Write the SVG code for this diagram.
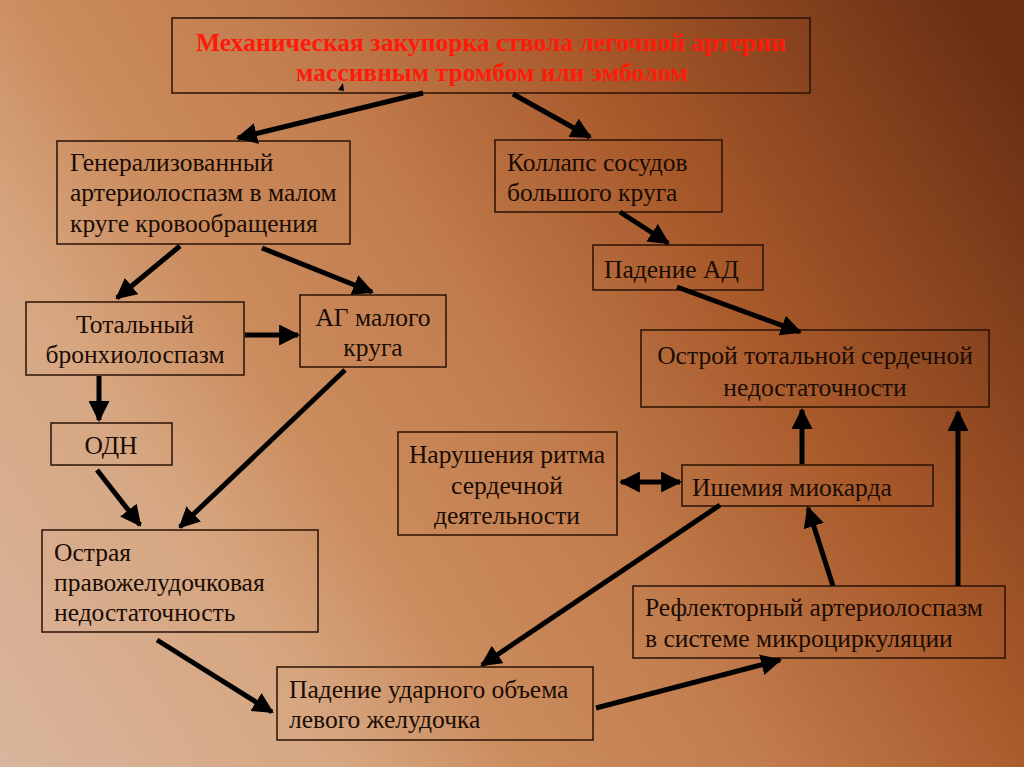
<svg xmlns="http://www.w3.org/2000/svg" width="1024" height="767" viewBox="0 0 1024 767">
<defs>
<linearGradient id="bg" gradientUnits="userSpaceOnUse" x1="0" y1="767" x2="1024" y2="100">
<stop offset="0" stop-color="#d9b59d"/>
<stop offset="0.24" stop-color="#d6a680"/>
<stop offset="0.36" stop-color="#cb8c5e"/>
<stop offset="0.52" stop-color="#c27d4e"/>
<stop offset="0.72" stop-color="#a8592a"/>
<stop offset="1" stop-color="#6b3014"/>
</linearGradient>
<marker id="ah" viewBox="0 0 10 10" refX="9" refY="5" markerWidth="4.2" markerHeight="4.2" orient="auto-start-reverse" markerUnits="strokeWidth">
<path d="M0,0 L10,5 L0,10 z" fill="#000"/>
</marker>
<style>
.box{fill:none;stroke:#2a1206;stroke-width:1.5}
.t{font-family:"Liberation Serif","Times New Roman",serif;font-size:25.5px;fill:#1a0c04}
.c{text-anchor:middle}
.title{font-family:"Liberation Serif","Times New Roman",serif;font-size:25.5px;font-weight:bold;fill:#ff1a0a;text-anchor:middle}
.a{stroke:#000;stroke-width:5;fill:none;marker-end:url(#ah)}
</style>
</defs>
<rect width="1024" height="767" fill="url(#bg)"/>

<g id="n-top">
<rect class="box" x="172" y="18" width="638" height="75"/>
<text class="title" x="491" y="51" textLength="590" lengthAdjust="spacingAndGlyphs">Механическая закупорка ствола легочной артерии</text>
<text class="title" x="492" y="81" textLength="392" lengthAdjust="spacingAndGlyphs">массивным тромбом или эмболом</text>
</g>
<g id="n-gen">
<rect class="box" x="57" y="141" width="293" height="103"/>
<text class="t" x="70" y="171">Генерализованный</text>
<text class="t" x="70" y="201">артериолоспазм в малом</text>
<text class="t" x="70" y="232">круге кровообращения</text>
</g>
<g id="n-kollaps">
<rect class="box" x="495" y="140" width="227" height="72"/>
<text class="t" x="507" y="171">Коллапс сосудов</text>
<text class="t" x="507" y="201">большого круга</text>
</g>
<g id="n-ad">
<rect class="box" x="593" y="245" width="170" height="45"/>
<text class="t" x="604" y="278">Падение АД</text>
</g>
<g id="n-ostroy">
<rect class="box" x="641" y="330" width="348" height="77"/>
<text class="t c" x="815" y="364">Острой тотальной сердечной</text>
<text class="t c" x="815" y="396">недостаточности</text>
</g>
<g id="n-bronh">
<rect class="box" x="26" y="302" width="218" height="73"/>
<text class="t c" x="135" y="333">Тотальный</text>
<text class="t c" x="135" y="363">бронхиолоспазм</text>
</g>
<g id="n-ag">
<rect class="box" x="300" y="295" width="146" height="72"/>
<text class="t c" x="373" y="326">АГ малого</text>
<text class="t c" x="373" y="356">круга</text>
</g>
<g id="n-odn">
<rect class="box" x="51" y="423" width="121" height="42"/>
<text class="t c" x="111" y="454">ОДН</text>
</g>
<g id="n-narush">
<rect class="box" x="398" y="432" width="219" height="103"/>
<text class="t c" x="507" y="463">Нарушения ритма</text>
<text class="t c" x="507" y="494">сердечной</text>
<text class="t c" x="507" y="524">деятельности</text>
</g>
<g id="n-ishemia">
<rect class="box" x="682" y="465" width="251" height="41"/>
<text class="t" x="692" y="496">Ишемия миокарда</text>
</g>
<g id="n-pravo">
<rect class="box" x="42" y="530" width="276" height="102"/>
<text class="t" x="54" y="561">Острая</text>
<text class="t" x="54" y="591">правожелудочковая</text>
<text class="t" x="54" y="621">недостаточность</text>
</g>
<g id="n-reflex">
<rect class="box" x="633" y="586" width="372" height="72"/>
<text class="t" x="645" y="616">Рефлекторный артериолоспазм</text>
<text class="t" x="645" y="647">в системе микроциркуляции</text>
</g>
<g id="n-udar">
<rect class="box" x="277" y="667" width="316" height="73"/>
<text class="t" x="289" y="698">Падение ударного объема</text>
<text class="t" x="289" y="728">левого желудочка</text>
</g>

<g id="connectors">
<line class="a" x1="423" y1="93" x2="238" y2="138"/>
<line class="a" x1="513" y1="94" x2="590" y2="137"/>
<line class="a" x1="180" y1="246" x2="117" y2="298"/>
<line class="a" x1="262" y1="248" x2="372" y2="292"/>
<line class="a" x1="245" y1="335" x2="298" y2="335"/>
<line class="a" x1="99" y1="376" x2="99" y2="420"/>
<line class="a" x1="97" y1="470" x2="140" y2="525"/>
<line class="a" x1="345" y1="370" x2="180" y2="527"/>
<line class="a" x1="620" y1="212" x2="668" y2="243"/>
<line class="a" x1="677" y1="287" x2="800" y2="332"/>
<line class="a" x1="157" y1="640" x2="272" y2="712"/>
<line class="a" x1="720" y1="505" x2="482" y2="665"/>
<line class="a" x1="596" y1="708" x2="780" y2="660"/>
<line class="a" x1="833" y1="586" x2="808" y2="508"/>
<line class="a" x1="958" y1="586" x2="958" y2="412"/>
<line class="a" x1="802" y1="464" x2="802" y2="410"/>
<line class="a" x1="621" y1="482" x2="680" y2="482" marker-start="url(#ah)"/>
<path d="M338,90 L343,83 L344,91 z" fill="#000"/>
</g>
</svg>
